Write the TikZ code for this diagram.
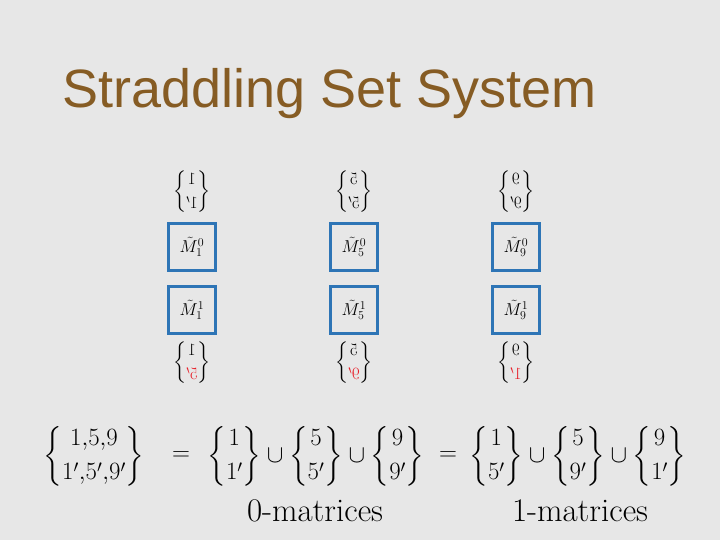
\documentclass[tikz,border=0pt]{standalone}
\usepackage{fontspec}
\usepackage{amsmath}
\newfontfamily\titlefont{Liberation Sans}
\definecolor{bg}{RGB}{231,231,231}
\definecolor{titlebrown}{RGB}{134,92,36}
\definecolor{boxblue}{RGB}{46,117,182}
\definecolor{setred}{RGB}{232,30,40}
\tikzset{
  mbox/.style={draw=boxblue, line width=3.5pt, minimum width=47pt, minimum height=47pt, inner sep=0pt, font=\fontsize{17}{20}\selectfont},
  smallset/.style={inner sep=0pt, xscale=-1, transform shape, font=\fontsize{18.5}{22}\selectfont},
  eqpart/.style={inner sep=0pt, font=\fontsize{24}{28}\selectfont},
  lbl/.style={inner sep=0pt, anchor=base, font=\fontsize{33}{38}\selectfont}
}
\begin{document}
\begin{tikzpicture}[x=1pt,y=-1pt]
\fill[bg] (0,0) rectangle (720,540);
\useasboundingbox (0,0) rectangle (720,540);
\node[anchor=base west, inner sep=0pt, text=titlebrown, font=\titlefont\fontsize{54}{60}\selectfont] (title) at (62,108) {Straddling Set System};
% upper sets (mirrored)
\node[smallset] (u1) at (192,192) {$\genfrac{\{}{\}}{0pt}{0}{1}{1'}$};
\node[smallset] (u5) at (354,192) {$\genfrac{\{}{\}}{0pt}{0}{5}{5'}$};
\node[smallset] (u9) at (516,192) {$\genfrac{\{}{\}}{0pt}{0}{9}{9'}$};
% boxes
\node[mbox] (a1) at (192,247) {$\tilde M_1^0$};
\node[mbox] (a5) at (354,247) {$\tilde M_5^0$};
\node[mbox] (a9) at (516,247) {$\tilde M_9^0$};
\node[mbox] (b1) at (192,310) {$\tilde M_1^1$};
\node[mbox] (b5) at (354,310) {$\tilde M_5^1$};
\node[mbox] (b9) at (516,310) {$\tilde M_9^1$};
% lower sets (mirrored)
\node[smallset] (l1) at (192,363) {$\genfrac{\{}{\}}{0pt}{0}{1}{\textcolor{setred}{5'}}$};
\node[smallset] (l5) at (354,363) {$\genfrac{\{}{\}}{0pt}{0}{5}{\textcolor{setred}{9'}}$};
\node[smallset] (l9) at (516,363) {$\genfrac{\{}{\}}{0pt}{0}{9}{\textcolor{setred}{1'}}$};
% equation
\node[eqpart] (lhs) at (94,456) {$\genfrac{\{}{\}}{0pt}{0}{\;1{,}5{,}9\;}{1'{,}5'{,}9'}$};
\node[eqpart] (eq1) at (181,456) {$=$};
\node[eqpart] (g0) at (316,456) {$\genfrac{\{}{\}}{0pt}{0}{1}{1'}\cup\genfrac{\{}{\}}{0pt}{0}{5}{5'}\cup\genfrac{\{}{\}}{0pt}{0}{9}{9'}$};
\node[eqpart] (eq2) at (448,456) {$=$};
\node[eqpart] (g1) at (578,456) {$\genfrac{\{}{\}}{0pt}{0}{1}{5'}\cup\genfrac{\{}{\}}{0pt}{0}{5}{9'}\cup\genfrac{\{}{\}}{0pt}{0}{9}{1'}$};
\node[lbl] (m0) at (315,521) {0-matrices};
\node[lbl] (m1) at (580,521) {1-matrices};
\end{tikzpicture}
\end{document}
